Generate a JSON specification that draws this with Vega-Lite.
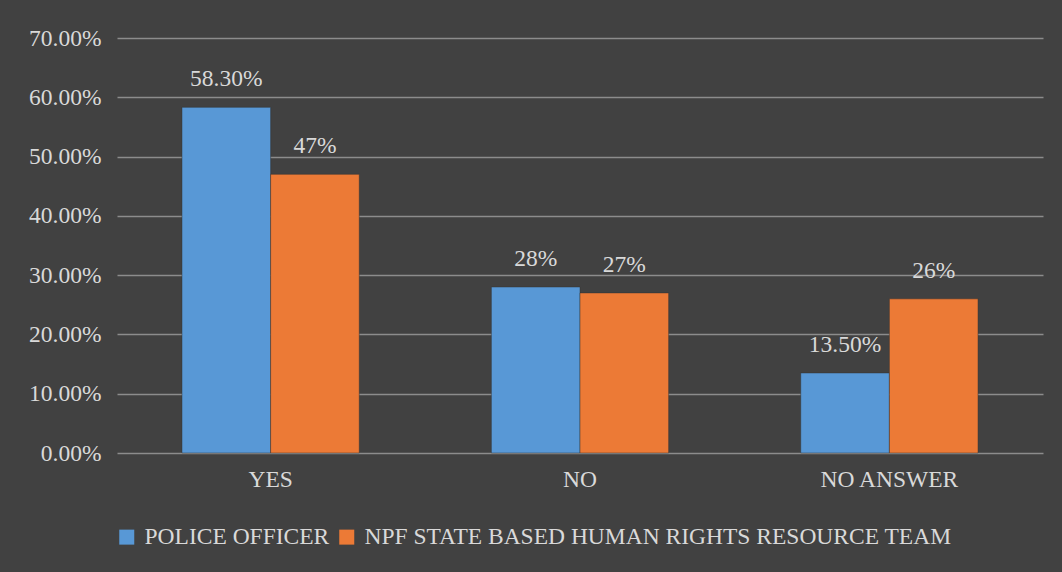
{
  "$schema": "https://vega.github.io/schema/vega-lite/v6.json",
  "width": 926,
  "height": 415,
  "autosize": {"type": "none"},
  "padding": {"left": 117, "top": 38, "right": 19, "bottom": 119},
  "background": "#414141",
  "config": {"view": {"stroke": null}, "font": "Liberation Serif"},
  "data": {
    "values": [
      {"answer": "YES", "group": "POLICE OFFICER", "value": 0.583, "label": "58.30%"},
      {"answer": "YES", "group": "NPF STATE BASED HUMAN RIGHTS RESOURCE TEAM", "value": 0.47, "label": "47%"},
      {"answer": "NO", "group": "POLICE OFFICER", "value": 0.28, "label": "28%"},
      {"answer": "NO", "group": "NPF STATE BASED HUMAN RIGHTS RESOURCE TEAM", "value": 0.27, "label": "27%"},
      {"answer": "NO ANSWER", "group": "POLICE OFFICER", "value": 0.135, "label": "13.50%"},
      {"answer": "NO ANSWER", "group": "NPF STATE BASED HUMAN RIGHTS RESOURCE TEAM", "value": 0.26, "label": "26%"}
    ]
  },
  "encoding": {
    "x": {
      "field": "answer", "type": "nominal", "sort": ["YES", "NO", "NO ANSWER"],
      "scale": {"paddingInner": 0.427, "paddingOuter": 0.21},
      "axis": {"title": null, "labelAngle": 0, "domain": false, "ticks": false, "labelFont": "Liberation Serif", "labelFontSize": 23.5, "labelColor": "#d9d9d9", "labelPadding": 14}
    },
    "xOffset": {
      "field": "group", "type": "nominal", "sort": ["POLICE OFFICER", "NPF STATE BASED HUMAN RIGHTS RESOURCE TEAM"],
      "scale": {"paddingInner": 0, "paddingOuter": 0}
    },
    "y": {
      "field": "value", "type": "quantitative",
      "scale": {"domain": [0, 0.7], "nice": false},
      "axis": {"title": null, "values": [0, 0.1, 0.2, 0.3, 0.4, 0.5, 0.6, 0.7], "format": ".2%", "domain": false, "ticks": false, "labelFont": "Liberation Serif", "labelFontSize": 23.5, "labelColor": "#d9d9d9", "labelPadding": 16, "gridColor": "#8c8c8c", "gridWidth": 1.5, "gridOpacity": 1}
    }
  },
  "layer": [
    {
      "mark": {"type": "bar", "stroke": "#333333", "strokeWidth": 0.8, "strokeOpacity": 0.6},
      "encoding": {
        "color": {
          "field": "group", "type": "nominal",
          "sort": ["POLICE OFFICER", "NPF STATE BASED HUMAN RIGHTS RESOURCE TEAM"],
          "scale": {
            "domain": ["POLICE OFFICER", "NPF STATE BASED HUMAN RIGHTS RESOURCE TEAM"],
            "range": ["#5898d6", "#ec7a36"]
          },
          "legend": {
            "title": null, "orient": "none", "direction": "horizontal", "legendX": -2, "legendY": 487,
            "symbolType": "square", "symbolSize": 225, "symbolStrokeWidth": 0, "symbolOpacity": 1,
            "labelFont": "Liberation Serif", "labelFontSize": 23.5, "labelColor": "#d9d9d9", "labelOffset": 6, "columnPadding": 5, "labelLimit": 800
          }
        }
      }
    },
    {
      "mark": {"type": "text", "baseline": "alphabetic", "dy": -21, "font": "Liberation Serif", "fontSize": 23.5, "color": "#d9d9d9"},
      "encoding": {"text": {"field": "label"}}
    }
  ]
}
